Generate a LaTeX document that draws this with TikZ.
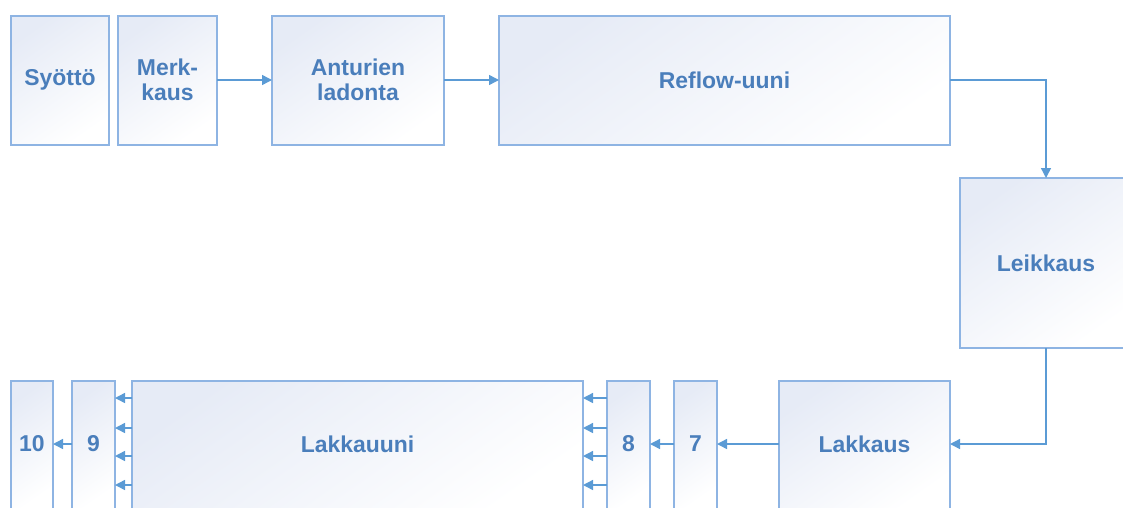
\documentclass[tikz,border=0pt]{standalone}
\usepackage{fontspec}
\setmainfont{Liberation Sans}
\usetikzlibrary{arrows.meta}
\definecolor{bordc}{HTML}{8EB4E3}
\definecolor{arrc}{HTML}{5B9BD5}
\definecolor{txtc}{HTML}{4A7EBB}
\definecolor{shadec}{HTML}{E6EBF6}
\tikzset{
  blk/.style={draw=bordc, line width=1.1pt, top color=shadec, bottom color=white, shading angle=35},
  lbl/.style={text=txtc, font=\bfseries\fontsize{17.2}{18.75}\selectfont, align=center, inner sep=0pt},
  arr/.style={draw=arrc, line width=1.1pt, -{Triangle[length=7.5pt,width=7.5pt]}}
}
\begin{document}
\begin{tikzpicture}[x=0.75pt,y=-0.75pt]
\useasboundingbox (0,0) rectangle (1123,507);
\clip (0,0) rectangle (1123,507);
% top row
\path[blk] (11,16) rectangle (109,145);
\node[lbl] (syotto) at (60,80) {Syöttö};
\path[blk] (118,16) rectangle (217,145);
\node[lbl] (merk) at (167.5,80) {Merk-\\kaus};
\path[blk] (272,16) rectangle (444,145);
\node[lbl] (ant) at (358,80) {Anturien\\ladonta};
\path[blk] (499,16) rectangle (950,145);
\node[lbl] (reflow) at (724.5,80) {Reflow-uuni};
\path[blk] (960,178) rectangle (1132,348);
\node[lbl] (leik) at (1046,263) {Leikkaus};
% bottom row
\path[blk] (779,381) rectangle (950,509);
\node[lbl] (lakkaus) at (864.5,444) {Lakkaus};
\path[blk] (674,381) rectangle (717,509);
\node[lbl] (n7) at (695.5,444) {7};
\path[blk] (607,381) rectangle (650,509);
\node[lbl] (n8) at (628.5,444) {8};
\path[blk] (132,381) rectangle (583,509);
\node[lbl] (uuni) at (357.5,444) {Lakkauuni};
\path[blk] (72,381) rectangle (115,509);
\node[lbl] (n9) at (93.5,444) {9};
\path[blk] (11,381) rectangle (53,509);
\node[lbl] (n10) at (32,444) {10};
% edge coordinates
\coordinate (merkR) at (217,80);
\coordinate (antL) at (272,80);
\coordinate (antR) at (444,80);
\coordinate (refL) at (499,80);
\coordinate (refR) at (950,80);
\coordinate (leikT) at (1046,178);
\coordinate (leikB) at (1046,348);
\coordinate (lakR) at (950,444);
\coordinate (lakL) at (779,444);
\coordinate (s7R) at (717,444);
\coordinate (s7L) at (674,444);
\coordinate (s8R) at (650,444);
\coordinate (s9L) at (72,444);
\coordinate (s10R) at (53,444);
% connectors
\draw[arr] (merkR) -- (antL);
\draw[arr] (antR) -- (refL);
\draw[arr] (refR) -| (leikT);
\draw[arr] (leikB) |- (lakR);
\draw[arr] (lakL) -- (s7R);
\draw[arr] (s7L) -- (s8R);
\foreach \yy in {398,428,456,485} {
  \coordinate (a8) at (607,\yy);
  \coordinate (b8) at (583,\yy);
  \coordinate (a9) at (132,\yy);
  \coordinate (b9) at (115,\yy);
  \draw[arr] (a8) -- (b8);
  \draw[arr] (a9) -- (b9);
}
\draw[arr] (s9L) -- (s10R);
\end{tikzpicture}
\end{document}
